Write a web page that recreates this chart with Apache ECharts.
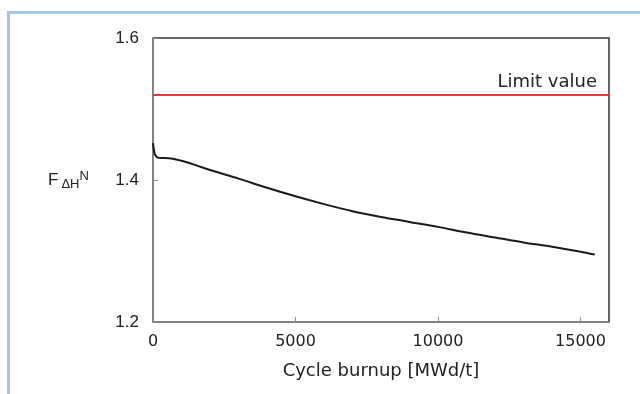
<!DOCTYPE html>
<html>
<head>
<meta charset="utf-8">
<script src="https://cdn.jsdelivr.net/npm/echarts@6/dist/echarts.min.js"></script>
<style>
  html, body { margin: 0; padding: 0; background: #fff; }
  #chart { width: 640px; height: 394px; }
</style>
</head>
<body>
<div id="chart"></div>
<script>
// Cycle burnup [MWd/t] and nuclear enthalpy rise factor
const burnup = [0, 30, 60, 100, 150, 250, 400, 700, 1000, 1500, 2000, 3000, 4000, 5000, 6000, 7000, 8000, 9000, 10000, 11000, 12000, 13000, 14000, 15000, 15500];
const fdh = [1.452, 1.443, 1.437, 1.434, 1.432, 1.431, 1.431, 1.430, 1.427, 1.421, 1.414, 1.402, 1.389, 1.377, 1.366, 1.356, 1.348, 1.341, 1.334, 1.326, 1.319, 1.312, 1.306, 1.299, 1.295];
const limitValue = 1.52;
const yTicks = [1.2, 1.4, 1.6];
const xTicks = [0, 5000, 10000, 15000];

const chart = echarts.init(document.getElementById('chart'));

chart.setOption({
  animation: false,
  backgroundColor: '#fff',
  grid: {
    left: 153,
    top: 38,
    right: 31,
    bottom: 72,
    show: true,
    borderColor: '#333',
    borderWidth: 1.5
  },
  graphic: [
    // light blue frame round the picture
    { type: 'rect', shape: { x: 7, y: 11, width: 3, height: 383 }, style: { fill: '#a3c6e8' } },
    { type: 'rect', shape: { x: 7, y: 11, width: 633, height: 3 }, style: { fill: '#a3c6e8' } },
    {
      type: 'text',
      left: 48,
      top: 170,
      style: {
        text: '{f|F}{s|ΔH}{n|N}',
        rich: {
          f: { fontSize: 17, fontFamily: 'Liberation Sans', fill: '#222' },
          s: { fontSize: 13, fontFamily: 'Liberation Sans', fill: '#222', padding: [9, 0, 0, 3] },
          n: { fontSize: 13, fontFamily: 'Liberation Sans', fill: '#222', padding: [0, 0, 7, 0] }
        }
      }
    }
  ],
  xAxis: {
    type: 'value',
    min: 0,
    max: 16000,
    interval: 5000,
    name: 'Cycle burnup [MWd/t]',
    nameLocation: 'middle',
    nameGap: 40,
    nameTextStyle: { fontSize: 18, fontFamily: 'DejaVu Sans', color: '#222' },
    axisLine: { show: true, lineStyle: { color: '#8c8c8c', width: 1.5 } },
    axisTick: { show: true, inside: true, length: 5, lineStyle: { color: '#8c8c8c' }, customValues: xTicks },
    axisLabel: {
      fontSize: 16,
      fontFamily: 'DejaVu Sans',
      color: '#222',
      margin: 12,
      formatter: v => String(v),
      customValues: xTicks
    },
    splitLine: { show: false }
  },
  yAxis: {
    type: 'value',
    min: 1.2,
    max: 1.6,
    interval: 0.2,
    axisLine: { show: true, lineStyle: { color: '#8c8c8c', width: 1.5 } },
    axisTick: { show: true, inside: true, length: 5, lineStyle: { color: '#8c8c8c' } },
    axisLabel: {
      fontSize: 17,
      fontFamily: 'Liberation Sans',
      color: '#222',
      margin: 14,
      formatter: v => v.toFixed(1),
      customValues: yTicks
    },
    splitLine: { show: false }
  },
  series: [{
    type: 'line',
    data: burnup.map((b, i) => [b, fdh[i]]),
    showSymbol: false,
    smooth: 0.3,
    lineStyle: { color: '#1a1a1a', width: 2 },
    markLine: {
      silent: true,
      symbol: 'none',
      lineStyle: { color: '#e03a3a', width: 2, type: 'solid' },
      label: {
        show: true,
        position: 'insideEndTop',
        formatter: 'Limit value',
        fontSize: 18,
        fontFamily: 'DejaVu Sans',
        color: '#222',
        distance: [12, 3]
      },
      data: [{ yAxis: limitValue }]
    }
  }]
});
</script>
</body>
</html>
